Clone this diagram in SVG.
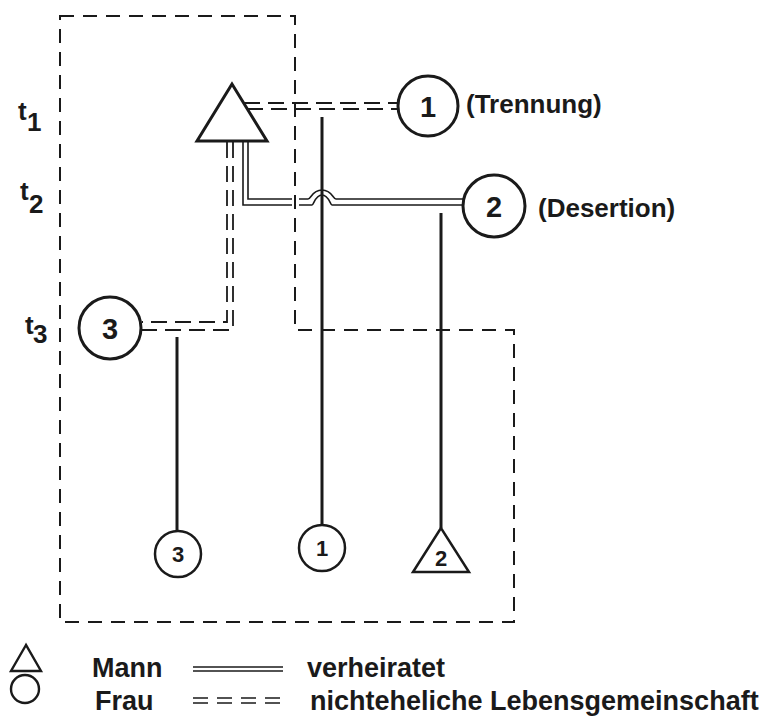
<svg xmlns="http://www.w3.org/2000/svg" width="775" height="720" viewBox="0 0 775 720">
<style>
  text { font-family: "Liberation Sans", Arial, sans-serif; font-weight: bold; fill: #1a1a1a; }
  .lbl { font-size: 26px; }
  .leg { font-size: 27px; }
  .t { font-size: 26px; }
  .num { font-size: 29px; text-anchor: middle; }
  .snum { font-size: 22px; text-anchor: middle; }
  .node { fill: #fff; stroke: #1a1a1a; stroke-width: 3; }
  .snode { fill: #fff; stroke: #1a1a1a; stroke-width: 2.5; }
  .child { stroke: #1a1a1a; stroke-width: 3; fill: none; }
  .mar { stroke: #1a1a1a; stroke-width: 1.6; fill: none; }
  .coh { stroke: #1a1a1a; stroke-width: 1.8; fill: none; stroke-dasharray: 16 8; }
  .bound { stroke: #1a1a1a; stroke-width: 2; fill: none; stroke-dasharray: 14 9; }
</style>
<g id="boundary">
  <path class="bound" d="M60,16 H295 V330 H514 V622 H60 Z"/>
</g>
<g id="connectors">
  <line class="coh" x1="244" y1="103" x2="399" y2="103"/>
  <line class="coh" x1="247" y1="109" x2="399" y2="109"/>
  <path class="coh" d="M227,142 V322 H142"/>
  <path class="coh" d="M233,142 V330 H142"/>
  <path class="mar" d="M248,142 V199 H292 M299,199 H308 C311,199 312,190 322,190 C332,190 333,199 336,199 H464"/>
  <path class="mar" d="M243,142 V205 H292 M299,205 H312 C314,205 315,195 322,195 C329,195 330,205 332,205 H464"/>
  <line class="child" x1="322" y1="117" x2="322" y2="525"/>
  <line class="child" x1="441" y1="213" x2="441" y2="528"/>
  <line class="child" x1="177" y1="337" x2="177" y2="531"/>
</g>
<g id="man">
  <polygon class="node" points="232,84 197,141 267,141"/>
</g>
<g id="woman1">
  <circle class="node" cx="428" cy="106" r="30"/>
  <text class="num" x="428" y="117">1</text>
  <text class="lbl" x="466" y="113">(Trennung)</text>
</g>
<g id="woman2">
  <circle class="node" cx="494" cy="206" r="31"/>
  <text class="num" x="494" y="217">2</text>
  <text class="lbl" x="538" y="217">(Desertion)</text>
</g>
<g id="woman3">
  <circle class="node" cx="110" cy="328" r="31"/>
  <text class="num" x="110" y="339">3</text>
</g>
<g id="child3">
  <circle class="snode" cx="178" cy="554" r="23"/>
  <text class="snum" x="178" y="562">3</text>
</g>
<g id="child1">
  <circle class="snode" cx="322" cy="548" r="23"/>
  <text class="snum" x="322" y="556">1</text>
</g>
<g id="child2">
  <polygon class="snode" points="441,528 413,572 469,572"/>
  <text class="snum" x="441" y="566">2</text>
</g>
<g id="time-labels">
  <text class="t" x="18" y="120">t</text><text class="t" x="27" y="131">1</text>
  <text class="t" x="20" y="200">t</text><text class="t" x="29" y="213">2</text>
  <text class="t" x="25" y="334">t</text><text class="t" x="33" y="343">3</text>
</g>
<g id="legend">
  <polygon points="26,645 11,671 41,671" fill="none" stroke="#1a1a1a" stroke-width="2.4"/>
  <ellipse cx="25" cy="689" rx="14" ry="14" fill="none" stroke="#1a1a1a" stroke-width="2.4"/>
  <text class="leg" x="92" y="677">Mann</text>
  <text class="leg" x="95" y="710">Frau</text>
  <line class="mar" x1="193" y1="667" x2="283" y2="667"/>
  <line class="mar" x1="193" y1="671" x2="283" y2="671"/>
  <line stroke="#1a1a1a" stroke-width="1.5" stroke-dasharray="15 9" x1="193" y1="698" x2="283" y2="698"/>
  <line stroke="#1a1a1a" stroke-width="1.5" stroke-dasharray="15 9" x1="193" y1="703" x2="283" y2="703"/>
  <text class="leg" x="307" y="677">verheiratet</text>
  <text class="leg" x="310" y="710">nichteheliche Lebensgemeinschaft</text>
</g>
</svg>
